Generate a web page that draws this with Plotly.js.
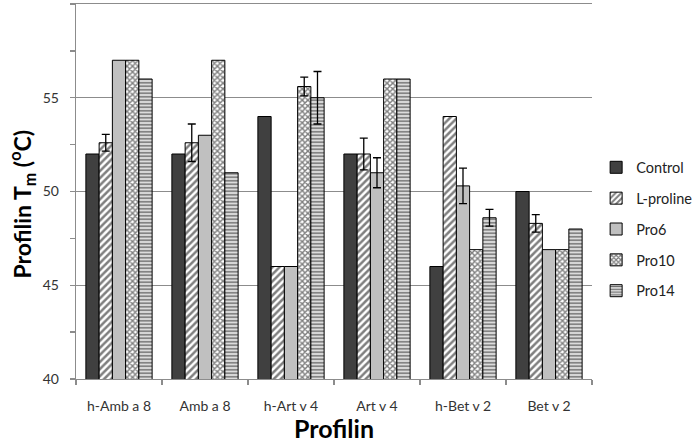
<!DOCTYPE html>
<html>
<head>
<meta charset="utf-8">
<script src="https://cdn.plot.ly/plotly-3.0.1.min.js"></script>
<style>html,body{margin:0;padding:0;background:#fff;}#chart{width:693px;height:443px;}</style>
</head>
<body>
<div id="chart"></div>
<script>
var categories = ["h-Amb a 8", "Amb a 8", "h-Art v 4", "Art v 4", "h-Bet v 2", "Bet v 2"];
var seriesNames = ["Control", "L-proline", "Pro6", "Pro10", "Pro14"];

var control  = [52.0, 52.0, 54.0, 52.0, 46.0, 50.0];
var lproline = [52.6, 52.6, 46.0, 52.0, 54.0, 48.3];
var pro6     = [57.0, 53.0, 46.0, 51.0, 50.3, 46.9];
var pro10    = [57.0, 57.0, 55.6, 56.0, 46.9, 46.9];
var pro14    = [56.0, 51.0, 55.0, 56.0, 48.6, 48.0];

var errControl  = [null, null, null, null, null, null];
var errLproline = [0.45, 1.0, null, 0.85, null, 0.47];
var errPro6     = [null, null, null, 0.8, 0.95, null];
var errPro10    = [null, null, 0.5, null, null, null];
var errPro14    = [null, null, 1.4, null, 0.45, null];

var yTitle = "Profilin T<sub>m</sub> (<sup>o</sup>C)";
var xTitle = "Profilin";

var values = [control, lproline, pro6, pro10, pro14];
var errors = [errControl, errLproline, errPro6, errPro10, errPro14];

var styles = [
  {color: "#404040"},
  {color: "#ffffff", pattern: {shape: "/", fgcolor: "#000000", bgcolor: "#ffffff", size: 5, solidity: 0.5, fillmode: "overlay"}},
  {color: "#c0c0c0"},
  {color: "#ffffff", pattern: {shape: "x", fgcolor: "#000000", bgcolor: "#ffffff", size: 4, solidity: 0.6, fillmode: "overlay"}},
  {color: "#dcdcdc", pattern: {shape: "-", fgcolor: "#000000", bgcolor: "#dcdcdc", size: 3.5, solidity: 0.4, fillmode: "overlay"}}
];

function toErr(arr) { return arr.map(function (v) { return v === null ? NaN : v; }); }

var traces = seriesNames.map(function (name, i) {
  var m = {color: styles[i].color, line: {color: "#000000", width: 1}};
  if (styles[i].pattern) m.pattern = styles[i].pattern;
  var hasErr = errors[i].some(function (v) { return v !== null; });
  return {
    type: "bar",
    name: name,
    legendgroup: name,
    x: categories,
    y: values[i],
    marker: m,
    error_y: hasErr ? {type: "data", array: toErr(errors[i]), visible: true, color: "#000000", thickness: 1.3, width: 4} : {visible: false}
  };
});

var font = "Lato, 'Open Sans', sans-serif";

var layout = {
  width: 693, height: 443,
  margin: {l: 76, r: 101, t: 4, b: 64, autoexpand: false},
  paper_bgcolor: "#ffffff", plot_bgcolor: "#ffffff",
  barmode: "group",
  bargap: 0.23,
  bargroupgap: 0,
  font: {family: font, color: "#333333", size: 14},
  showlegend: true,
  legend: {
    x: 1.008, xanchor: "left", y: 0.607, yanchor: "top",
    font: {family: font, size: 14.5, color: "#222222"},
    tracegroupgap: 9,
    itemwidth: 30,
    bgcolor: "rgba(0,0,0,0)"
  },
  xaxis: {
    type: "category",
    showline: true, linecolor: "#8c8c8c", linewidth: 1.3, mirror: true,
    ticks: "outside", ticklen: 5, tickcolor: "#8c8c8c", tickwidth: 1.3,
    tickson: "boundaries",
    ticklabelstandoff: 14,
    showgrid: false,
    tickfont: {family: font, size: 14, color: "#333333"},
    title: {text: xTitle, font: {family: font, size: 25, color: "#000000", weight: "bold"}, standoff: 4}
  },
  yaxis: {
    range: [40, 60],
    tickvals: [40, 45, 50, 55, 60],
    showline: true, linecolor: "#8c8c8c", linewidth: 1.3,
    ticks: "outside", ticklen: 5, tickcolor: "#8c8c8c", tickwidth: 1.3,
    ticklabelstandoff: 8,
    minor: {dtick: 2.5, tick0: 40, ticks: "outside", ticklen: 5, tickcolor: "#8c8c8c", tickwidth: 1.3, showgrid: false},
    showgrid: true, gridcolor: "#8c8c8c", gridwidth: 1.3,
    zeroline: false,
    tickfont: {family: font, size: 14, color: "#333333"}
  },
  annotations: [{
    text: yTitle, textangle: -90,
    xref: "paper", yref: "paper", x: -0.1047, y: 0.5, yshift: -13,
    xanchor: "center", yanchor: "middle", showarrow: false,
    font: {family: font, size: 23, color: "#000000", weight: "bold"}
  }]
};

Plotly.newPlot("chart", traces, layout, {displayModeBar: false, staticPlot: true});
</script>
</body>
</html>
